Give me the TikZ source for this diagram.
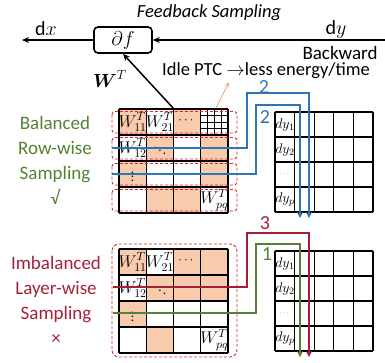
\documentclass[tikz,border=0pt]{standalone}
\usepackage{fix-cm}
\usepackage{amsmath}
\usepackage{fontspec}
\setmainfont{Carlito}
\usepackage{xcolor}
\usetikzlibrary{arrows.meta}
\definecolor{ptcorange}{RGB}{248,203,173}
\definecolor{ptcarrow}{RGB}{244,177,131}
\definecolor{ptcblue}{RGB}{46,117,182}
\definecolor{ptcgreen}{RGB}{84,130,53}
\definecolor{ptcred}{RGB}{165,32,55}
\definecolor{dashred}{RGB}{222,40,50}
\tikzset{
	cellline/.style={line width=1.2pt},
	rowbox/.style={draw=dashred,dashed,line width=0.9pt,dash pattern=on 3pt off 2pt},
	flow/.style={line width=1.3pt,-{Stealth[length=6pt,width=6pt]}},
	celltext/.style={font=\fontsize{17}{17}\selectfont,inner sep=0pt},
	celldots/.style={font=\fontsize{13}{13}\selectfont,inner sep=0pt},
	dytext/.style={font=\fontsize{14}{14}\selectfont,inner sep=0pt}
}

\begin{document}
\begin{tikzpicture}[x=1pt,y=-1pt]
	\useasboundingbox (0,0) rectangle (385,362);

	% forward / backward line
	\node[draw,line width=1.6pt,rounded corners=4pt,minimum width=58pt,minimum height=26pt] (df) at (123,40) {\fontsize{20}{20}\selectfont$\partial f$};
	\coordinate (rin) at (385,40);
	\coordinate (lout) at (22,40);
	\draw[line width=1.6pt,-{Stealth[length=7pt,width=6pt]}] (rin) -- (df);
	\draw[line width=1.6pt,-{Stealth[length=7pt,width=6pt]}] (df) -- (lout);
	\node (title) at (209,13) {\fontsize{18.5}{18.5}\selectfont\itshape Feedback Sampling};
	\node (dx) at (46,29) {\fontsize{20}{20}\selectfont$\mathrm{d}x$};
	\node (dy) at (336,29) {\fontsize{20}{20}\selectfont$\mathrm{d}y$};
	\node[anchor=east] (bw) at (381,53) {\fontsize{19}{19}\selectfont Backward};
	\node (idle) at (266,71) {\fontsize{18.5}{18.5}\selectfont Idle PTC $\rightarrow$less energy/time};
	\node (wt) at (110,79) {\fontsize{19}{19}\selectfont$\boldsymbol{W}^{T}$};

	% upper weight matrix
	\foreach \c/\r in {1/1,3/1,2/2,4/2,1/3,4/3,2/4,3/4}
		\fill[ptcorange] ({119+27.25*(\c-1)},{109+26*(\r-1)}) rectangle ++(27.25,26);
	\foreach \i in {1,2,3}{
		\draw[line width=0.8pt] ({200.75+6.8125*\i},109) -- ++(0,26);
		\draw[line width=0.8pt] (200.75,{109+6.5*\i}) -- ++(27.25,0);
	}
	\foreach \i in {0,...,4}{
		\draw[cellline] ({119+27.25*\i},109) -- ++(0,104);
		\draw[cellline] (119,{109+26*\i}) -- ++(109,0);
	}
	\node[celltext] (u11) at (132.6,122) {$W^{T}_{11}$};
	\node[celltext] (u21) at (159.9,122) {$W^{T}_{21}$};
	\node[celldots] (u31) at (187.1,121) {$\cdots$};
	\node[celldots] (u22) at (159.9,148) {$\ddots$};
	\node[celltext] (u12) at (132.6,148) {$W^{T}_{12}$};
	\node[celldots] (u13) at (132.6,174) {$\vdots$};
	\node[celltext] (upq) at (214.4,200) {$W^{T}_{pq}$};
	\foreach \r in {1,...,4}
		\draw[rowbox,rounded corners=3pt] (112,{111.5+26*(\r-1)}) rectangle ++(125,21.5);

	% W^T to the operator, idle marker
	\coordinate (wtop) at (174,109);
	\draw[line width=1.5pt,-{Stealth[length=7pt,width=6pt]}] (wtop) -- (df.south);
	\coordinate (idle0) at (216,108);
	\coordinate (idle1) at (229,82);
	\draw[ptcarrow,line width=1pt,-{Stealth[length=5pt,width=5pt]}] (idle0) -- (idle1);

	% lower weight matrix
	\foreach \c/\r in {1/1,3/1,4/1,2/2,3/2,4/2,1/3,2/4}
		\fill[ptcorange] ({119+27.25*(\c-1)},{249+26*(\r-1)}) rectangle ++(27.25,26);
	\foreach \i in {0,...,4}{
		\draw[cellline] ({119+27.25*\i},249) -- ++(0,104);
		\draw[cellline] (119,{249+26*\i}) -- ++(109,0);
	}
	\node[celltext] (l11) at (132.6,262) {$W^{T}_{11}$};
	\node[celltext] (l21) at (159.9,262) {$W^{T}_{21}$};
	\node[celldots] (l31) at (187.1,261) {$\cdots$};
	\node[celldots] (l22) at (159.9,288) {$\ddots$};
	\node[celltext] (l12) at (132.6,288) {$W^{T}_{12}$};
	\node[celldots] (l13) at (132.6,314) {$\vdots$};
	\node[celltext] (lpq) at (214.4,340) {$W^{T}_{pq}$};
	\draw[rowbox,rounded corners=7pt] (112,244) rectangle (237,357);

	% dy matrices
	\foreach \y/\m in {112/u,251/l}{
		\foreach \i in {0,...,5}
			\draw[cellline] ({275+19.6*\i},\y) -- ++(0,100);
		\foreach \i in {0,...,4}
			\draw[cellline] (275,{\y+25*\i}) -- ++(98,0);
		\node[dytext] (dy1\m) at (285,{\y+12.5}) {$dy_1$};
		\node[dytext] (dy2\m) at (285,{\y+37.5}) {$dy_2$};
		\node[dytext] (dy3\m) at (285,{\y+62.5}) {\tiny$\dots$};
		\node[dytext] (dyp\m) at (285,{\y+87.5}) {$dy_p$};
	}

	% sampling paths
	\coordinate (b1s) at (112,148);
	\coordinate (b1k) at (247,93);
	\coordinate (b1e) at (309,218);
	\coordinate (b2s) at (112,174);
	\coordinate (b2k) at (256,105);
	\coordinate (b2e) at (300,218);
	\draw[flow,ptcblue] (b1s) -| (b1k) -| (b1e);
	\draw[flow,ptcblue] (b2s) -| (b2k) -| (b2e);
	\coordinate (r1s) at (113,287);
	\coordinate (r1k) at (247,233);
	\coordinate (r1e) at (309,357);
	\coordinate (g1s) at (113,313);
	\coordinate (g1k) at (256,244);
	\coordinate (g1e) at (300,357);
	\draw[flow,ptcred] (r1s) -| (r1k) -| (r1e);
	\draw[flow,ptcgreen] (g1s) -| (g1k) -| (g1e);
	\node[ptcblue] (n2a) at (264,87) {\fontsize{20}{20}\selectfont 2};
	\node[ptcblue] (n2b) at (265,117) {\fontsize{20}{20}\selectfont 2};
	\node[ptcred] (n3) at (265,223) {\fontsize{20}{20}\selectfont 3};
	\node[ptcgreen] (n1) at (267,254) {\fontsize{20}{20}\selectfont 1};

	% left captions
	\node[ptcgreen,align=center,font=\fontsize{19}{25}\selectfont] (bal) at (55,160.5) {Balanced\\Row-wise\\Sampling\\√};
	\node[ptcred,align=center,font=\fontsize{19}{25}\selectfont] (imb) at (56,300.5) {Imbalanced\\Layer-wise\\Sampling\\×};

\end{tikzpicture}
\end{document}
